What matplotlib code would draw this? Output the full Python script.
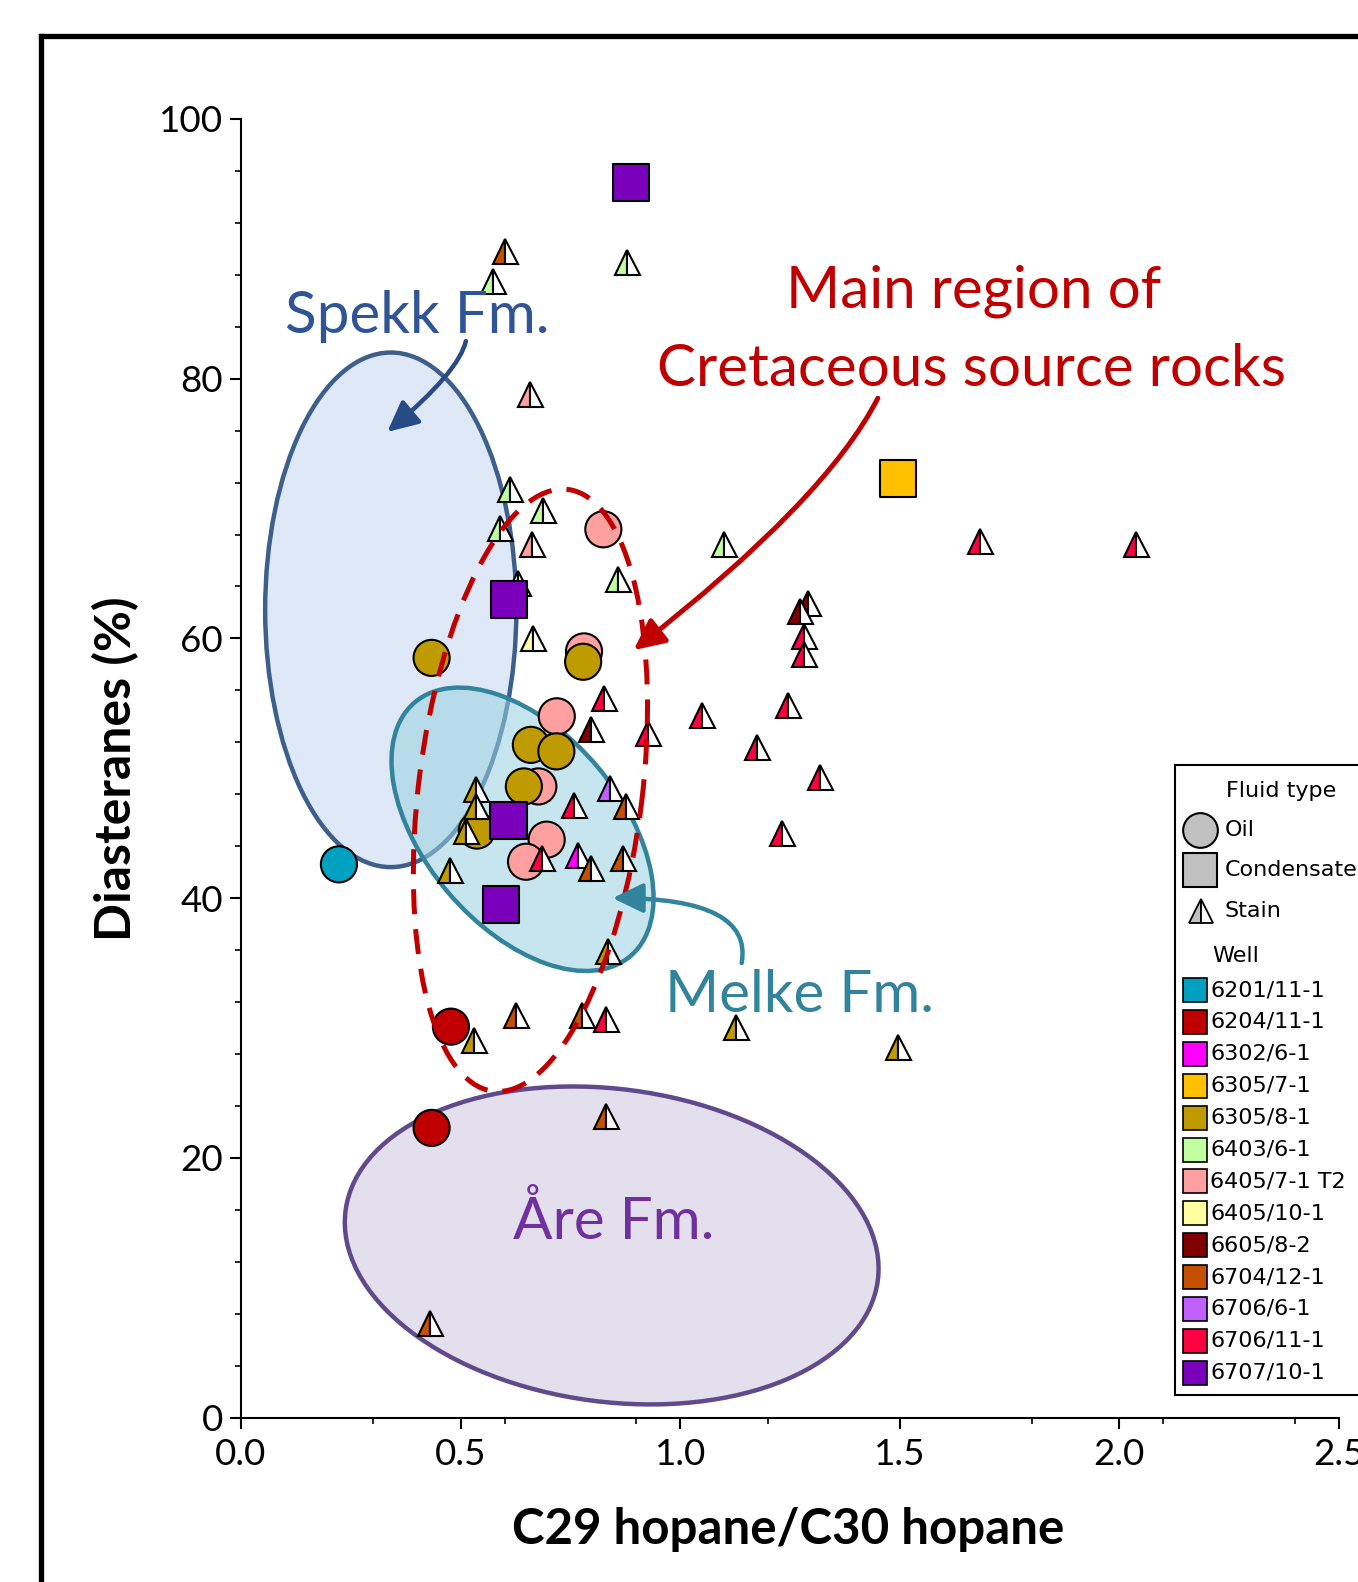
import matplotlib
matplotlib.use("Agg")
import matplotlib.pyplot as plt
from matplotlib.patches import Ellipse, FancyArrowPatch
from matplotlib.lines import Line2D
from matplotlib.transforms import Affine2D, ScaledTranslation
from matplotlib.ticker import MultipleLocator

# wells and their colours (legend order)
wells = ["6201/11-1", "6204/11-1", "6302/6-1", "6305/7-1", "6305/8-1", "6403/6-1",
         "6405/7-1 T2", "6405/10-1", "6605/8-2", "6704/12-1", "6706/6-1", "6706/11-1",
         "6707/10-1"]
well_colors = ["#00A0C0", "#C00000", "#FF00FF", "#FFC000", "#C09B00", "#C0FFA0",
               "#FFA0A0", "#FFFFA0", "#800000", "#C55000", "#C060FF", "#FF0040",
               "#7B00BB"]

# oil samples (circles)
oil_well = ["6405/7-1 T2"] * 6 + ["6201/11-1", "6204/11-1", "6204/11-1"] + ["6305/8-1"] * 6
oil_x = [0.825, 0.781, 0.719, 0.677, 0.696, 0.649,
         0.223, 0.478, 0.434,
         0.434, 0.779, 0.660, 0.718, 0.644, 0.537]
oil_y = [68.4, 59.0, 54.0, 48.6, 44.5, 42.8,
         42.6, 30.1, 22.3,
         58.5, 58.2, 51.8, 51.3, 48.6, 45.2]

# condensate samples (squares)
cond_well = ["6707/10-1", "6707/10-1", "6707/10-1", "6707/10-1", "6305/7-1"]
cond_x = [0.888, 0.610, 0.609, 0.592, 1.496]
cond_y = [95.1, 63.0, 46.0, 39.5, 72.3]

# stain samples (half-filled triangles)
stain_well = ["6704/12-1", "6403/6-1", "6403/6-1", "6405/7-1 T2", "6403/6-1", "6403/6-1",
              "6403/6-1", "6405/7-1 T2", "6403/6-1", "6403/6-1", "6405/10-1", "6706/11-1",
              "6605/8-2", "6706/11-1", "6305/8-1", "6305/8-1", "6305/8-1", "6305/8-1",
              "6706/11-1", "6706/6-1", "6704/12-1", "6706/11-1", "6302/6-1", "6704/12-1",
              "6704/12-1", "6305/8-1", "6704/12-1", "6305/8-1", "6704/12-1", "6706/11-1",
              "6305/8-1", "6704/12-1", "6305/8-1", "6704/12-1", "6403/6-1", "6706/11-1",
              "6706/11-1", "6605/8-2", "6605/8-2", "6706/11-1", "6706/11-1", "6706/11-1",
              "6706/11-1", "6706/11-1", "6706/11-1", "6706/11-1"]
stain_x = [0.600, 0.574, 0.880, 0.657, 0.613, 0.688,
           0.590, 0.662, 0.858, 0.631, 0.665, 0.826,
           0.798, 0.927, 0.535, 0.535, 0.512, 0.476,
           0.759, 0.840, 0.877, 0.685, 0.767, 0.798,
           0.870, 0.835, 0.626, 0.530, 0.776, 0.831,
           1.127, 0.831, 1.497, 0.430, 1.100, 1.683,
           2.038, 1.292, 1.273, 1.282, 1.282, 1.245,
           1.049, 1.176, 1.318, 1.232]
stain_y = [89.8, 87.5, 89.0, 78.8, 71.5, 69.9,
           68.5, 67.3, 64.6, 64.3, 60.0, 55.4,
           53.0, 52.7, 48.4, 47.1, 45.2, 42.2,
           47.2, 48.5, 47.1, 43.1, 43.3, 42.3,
           43.1, 35.9, 31.0, 29.1, 31.0, 30.7,
           30.1, 23.2, 28.5, 7.3, 67.3, 67.5,
           67.3, 62.7, 62.1, 60.2, 58.8, 54.9,
           54.1, 51.6, 49.3, 45.0]

col = dict(zip(wells, well_colors))
W, H = 1358, 1582
main_font = "Lato"

fig = plt.figure(figsize=(W / 100, H / 100), dpi=100)
ax = fig.add_axes([241 / W, 1 - 1417.5 / H, 1098 / W, 1298.5 / H])
ax.set_xlim(0, 2.5)
ax.set_ylim(0, 100)

for s in ["top", "right"]:
    ax.spines[s].set_visible(False)
for s in ["left", "bottom"]:
    ax.spines[s].set_linewidth(1.5)
ax.xaxis.set_major_locator(MultipleLocator(0.5))
ax.xaxis.set_minor_locator(MultipleLocator(0.3))
ax.yaxis.set_major_locator(MultipleLocator(20))
ax.yaxis.set_minor_locator(MultipleLocator(4))
ax.tick_params(which="major", length=8, width=1.5, labelsize=26.5, pad=5)
ax.tick_params(which="minor", length=4, width=1.2)
ax.tick_params(axis="x", which="major", pad=7)
ax.set_xticklabels([f"{v:.1f}" for v in ax.get_xticks()], family=main_font)
ax.set_yticklabels([f"{v:.0f}" for v in ax.get_yticks()], family=main_font)

ax.text(0.498, -0.086, "C29 hopane/C30 hopane", transform=ax.transAxes, ha="center",
        va="center", fontsize=35.5, fontweight="bold", family=main_font)
ax.text(-0.114, 0.5, "Diasteranes (%)", transform=ax.transAxes, ha="center", va="center",
        rotation=90, fontsize=36, fontweight="bold", family=main_font)


def pix_ellipse(cx, cy, a, b, ang, **kw):
    # ellipse sized in pixels, centred on a data point
    tr = Affine2D().scale(fig.dpi / 100.0) + ScaledTranslation(cx, cy, ax.transData)
    e = Ellipse((0, 0), 2 * a, 2 * b, angle=ang, transform=tr, **kw)
    ax.add_patch(e)
    return e


# source rock fields
pix_ellipse(0.341, 62.2, 125.6, 257.3, 0, facecolor="#DFE8F6", edgecolor="#3D5F8C", lw=3.2, zorder=1)
pix_ellipse(0.641, 45.3, 166.5, 97.6, -49.6, facecolor=(0.60, 0.82, 0.88, 0.55),
            edgecolor="#31849B", lw=3.2, zorder=1.2)
pix_ellipse(0.844, 13.25, 268.4, 156.4, -7.5, facecolor="#E4DFEC", edgecolor="#5F4B8B", lw=3.2, zorder=1)
pix_ellipse(0.659, 48.3, 303.2, 111.8, 82.9, fill=False, edgecolor="#C00000", lw=3.6,
            linestyle=(0, (5, 3)), zorder=6)

# samples
ax.scatter(oil_x, oil_y, s=26 ** 2, c=[col[w] for w in oil_well], edgecolors="black",
           linewidths=1.5, zorder=3)
for w, x, y in zip(stain_well, stain_x, stain_y):
    ax.plot([x], [y], marker="^", ms=18, fillstyle="left", mfc=col[w], mfcalt="white",
            mec="black", mew=1.5, ls="none", zorder=4)
ax.scatter(cond_x, cond_y, marker="s", s=26.5 ** 2, c=[col[w] for w in cond_well],
           edgecolors="black", linewidths=1.5, zorder=5)

# annotations
ann = dict(fontsize=42, ha="center", va="baseline", family=main_font, zorder=7)
ax.text(0.402, 83.5, "Spekk Fm.", color="#2F5597", **ann)
ax.text(1.668, 85.5, "Main region of", color="#C00000", **ann)
ax.text(1.663, 79.4, "Cretaceous source rocks", color="#C00000", **ann)
ax.text(1.271, 31.2, "Melke Fm.", color="#31849B", **ann)
ax.text(0.848, 13.75, "Åre Fm.", color="#7030A0", **ann)

arrow_kw = dict(arrowstyle="-|>,head_length=0.62,head_width=0.3", mutation_scale=30,
                shrinkA=0, shrinkB=0, transform=ax.transData, zorder=6)
ax.add_patch(FancyArrowPatch((0.512, 82.9), (0.333, 75.9), connectionstyle="angle3,angleA=78,angleB=40",
                             color="#264B85", lw=3.2, **arrow_kw))
ax.add_patch(FancyArrowPatch((1.450, 78.5), (0.894, 59.1), connectionstyle="angle3,angleA=63,angleB=38",
                             color="#C00000", lw=3.6, **arrow_kw))
ax.add_patch(FancyArrowPatch((1.140, 35.0), (0.846, 40.0), connectionstyle="angle3,angleA=80,angleB=0",
                             color="#31849B", lw=3.2, **arrow_kw))

# outer frame
fx, fy = 40.5 / W, 1 - 35.5 / H
fig.add_artist(Line2D([fx, fx], [-0.01, fy], transform=fig.transFigure, color="black", lw=3.8,
                      solid_capstyle="projecting"))
fig.add_artist(Line2D([fx, 1.01], [fy, fy], transform=fig.transFigure, color="black", lw=3.8,
                      solid_capstyle="projecting"))

# legend box
lax = fig.add_axes([1175 / W, 1 - 1395 / H, 200 / W, 630 / H])
lax.set_xlim(1175, 1375)
lax.set_ylim(1395, 765)
lax.set_xticks([])
lax.set_yticks([])
for s in lax.spines.values():
    s.set_linewidth(1.5)
lf = dict(fontsize=16, family="DejaVu Sans", va="center", ha="left")
lax.text(1226, 791, "Fluid type", **lf)
lax.plot(1200, 830, marker="o", ms=25, mfc="#C0C0C0", mec="black", mew=1.5)
lax.text(1225, 830, "Oil", **lf)
lax.plot(1200, 870, marker="s", ms=25, mfc="#C0C0C0", mec="black", mew=1.5)
lax.text(1225, 870, "Condensate", **lf)
lax.plot(1201, 911, marker="^", ms=17, fillstyle="left", mfc="#C0C0C0", mfcalt="white",
         mec="black", mew=1.3)
lax.text(1225, 911, "Stain", **lf)
lax.text(1212, 956, "Well", **lf)
for i, (w, c) in enumerate(zip(wells, well_colors)):
    yy = 990 + 31.9 * i
    lax.plot(1194.5, yy, marker="s", ms=17, mfc=c, mec="black", mew=1.2)
    lax.text(1210, yy, w, **lf)

fig.savefig("out.png", dpi=100)
